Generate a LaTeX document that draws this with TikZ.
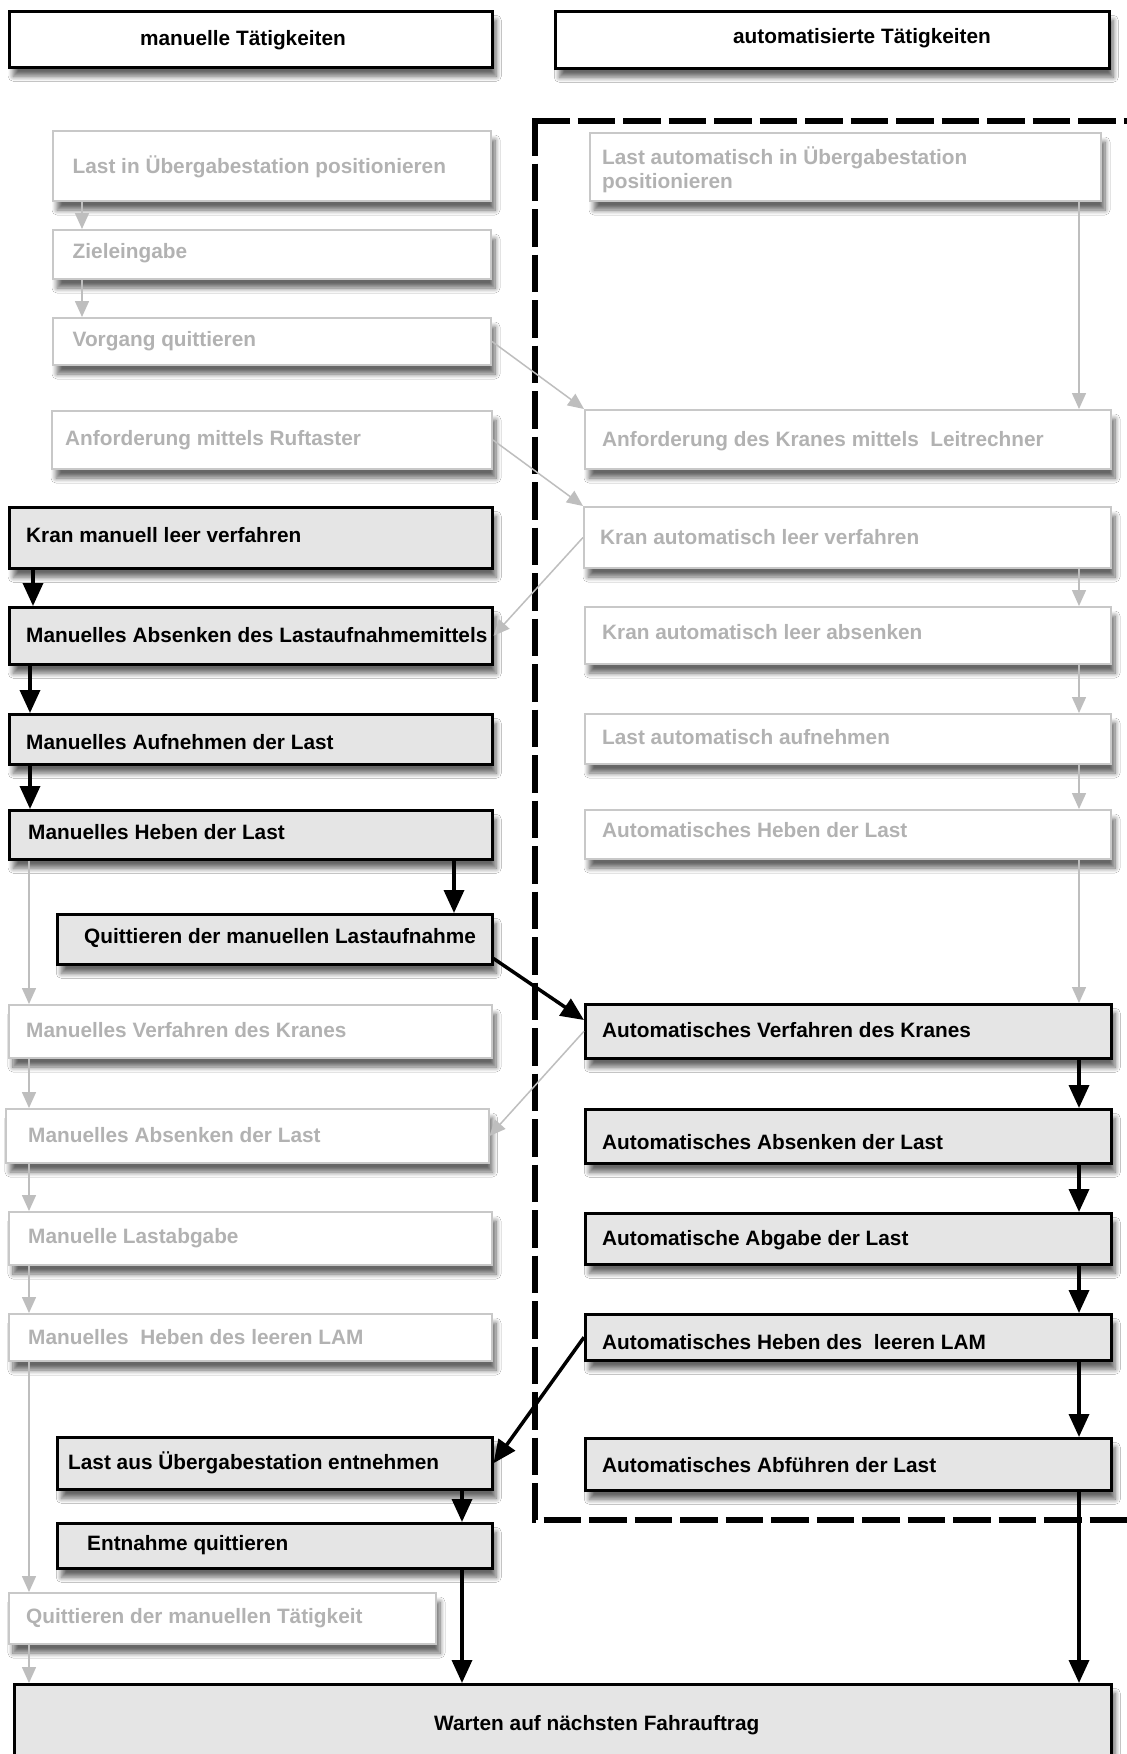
\documentclass[tikz,border=0pt]{standalone}
\usepackage{fontspec}
\setmainfont{Liberation Sans}
\usetikzlibrary{arrows.meta,shadows.blur}
\definecolor{boxfill}{RGB}{229,229,229}
\definecolor{lightborder}{RGB}{200,200,200}
\definecolor{lighttext}{RGB}{178,178,178}
\definecolor{lightarrow}{RGB}{190,190,190}
\tikzset{
 shad/.style={blur shadow={shadow xshift=4pt, shadow yshift=-9pt, shadow blur radius=5pt, shadow blur steps=8, shadow opacity=60}},
 gbox/.style={draw=lightborder, line width=2pt, fill=white, shad, inner sep=0pt},
 kbox/.style={draw=black, line width=2.5pt, fill=boxfill, shad, inner sep=0pt},
 hbox/.style={draw=black, line width=2.5pt, fill=white, shad, inner sep=0pt},
 alltxt/.style={font=\fontsize{20.8}{24}\selectfont\bfseries, inner sep=0pt},
 gboxtxt/.style={alltxt, text=lighttext},
 kboxtxt/.style={alltxt, text=black},
 hboxtxt/.style={alltxt, text=black},
 garr/.style={draw=lightarrow, line width=1.5pt, -{Triangle[length=16pt,width=14pt]}},
 karr/.style={draw=black, line width=3.5pt, -{Triangle[length=23pt,width=20pt]}},
 dashframe/.style={draw=black, line width=6pt, dash pattern=on 37.5pt off 8pt},
}
\newcommand{\mkbox}[9]{%
 \pgfmathsetmacro{\mybw}{#5-#3}\pgfmathsetmacro{\mybh}{#6-#4}%
 \node[#1, anchor=north west, minimum width=\mybw pt, minimum height=\mybh pt] (#2) at (#3,#4) {};
 \node[#1txt, anchor=west, align=left] (#2t) at (#7,#8) {#9};}
\begin{document}
\begin{tikzpicture}[x=1pt,y=-1pt]
\useasboundingbox (0,0) rectangle (1127,1754);
\fill[white] (0,0) rectangle (1127,1754);

% dashed frame of the automated area
\draw[dashframe] (532,121) -- (1145,121);
\draw[dashframe] (535,118) -- (535,1520) -- (1145,1520);

% headers
\node[hbox, anchor=north west, minimum width=483pt, minimum height=56pt] (hl) at (8,10) {};
\node[hboxtxt, anchor=base] (hlt) at (243,45) {manuelle Tätigkeiten};
\node[hbox, anchor=north west, minimum width=554pt, minimum height=57pt] (hr) at (554,10) {};
\node[hboxtxt, anchor=base] (hrt) at (862,43) {automatisierte Tätigkeiten};

% left column
\mkbox{gbox}{L1}{52}{130}{490}{200}{72.5}{167}{Last in Übergabestation positionieren}
\mkbox{gbox}{L2}{52}{229}{490}{278}{72.5}{253}{Zieleingabe}
\mkbox{gbox}{L3}{52}{317}{490}{364}{72.5}{341}{Vorgang quittieren}
\mkbox{gbox}{L4}{51}{410}{491}{468}{65}{440}{Anforderung mittels Ruftaster}
\mkbox{kbox}{L5}{8}{506}{491}{567}{26}{535}{Kran manuell leer verfahren}
\mkbox{kbox}{L6}{8}{606}{491}{663}{26}{635}{Manuelles Absenken des Lastaufnahmemittels}
\mkbox{kbox}{L7}{8}{713}{491}{763}{26}{742}{Manuelles Aufnehmen der Last}
\mkbox{kbox}{L8}{8}{809}{491}{858}{28}{832}{Manuelles Heben der Last}
\mkbox{kbox}{L9}{56}{913}{491}{963}{84}{938}{Quittieren der manuellen Lastaufnahme}
\mkbox{gbox}{L10}{8}{1004}{491}{1057}{26}{1030}{Manuelles Verfahren des Kranes}
\mkbox{gbox}{L11}{5}{1108}{487.5}{1162}{28}{1135}{Manuelles Absenken der Last}
\mkbox{gbox}{L12}{8}{1211}{491}{1264}{28}{1238}{Manuelle Lastabgabe}
\mkbox{gbox}{L13}{8}{1313}{491}{1360}{28}{1337}{Manuelles\ \ Heben des leeren LAM}
\mkbox{kbox}{L14}{56}{1436}{491}{1488}{68}{1463}{Last aus Übergabestation entnehmen}
\mkbox{kbox}{L15}{56}{1522}{491}{1567}{87}{1545}{Entnahme quittieren}
\mkbox{gbox}{L16}{8}{1592}{435}{1643}{26}{1618}{Quittieren der manuellen Tätigkeit}
\mkbox{kbox}{W}{13}{1683}{1110}{1775}{434}{1725}{Warten auf nächsten Fahrauftrag}

% right column
\mkbox{gbox}{R1}{589}{132}{1100}{200}{602}{170}{Last automatisch in Übergabestation\\positionieren}
\mkbox{gbox}{R2}{584}{409}{1110}{468}{602}{441}{Anforderung des Kranes mittels\ \ Leitrechner}
\mkbox{gbox}{R3}{583}{506}{1110}{567}{600}{537}{Kran automatisch leer verfahren}
\mkbox{gbox}{R4}{584}{606}{1110}{663}{602}{632}{Kran automatisch leer absenken}
\mkbox{gbox}{R5}{584}{713}{1110}{763}{602}{737}{Last automatisch aufnehmen}
\mkbox{gbox}{R6}{584}{809}{1110}{858}{602}{830}{Automatisches Heben der Last}
\mkbox{kbox}{R7}{584}{1003}{1110}{1057}{602}{1030}{Automatisches Verfahren des Kranes}
\mkbox{kbox}{R8}{584}{1108}{1110}{1162}{602}{1142}{Automatisches Absenken der Last}
\mkbox{kbox}{R9}{584}{1212}{1110}{1263}{602}{1240}{Automatische Abgabe der Last}
\mkbox{kbox}{R10}{584}{1313}{1110}{1359}{602}{1342}{Automatisches Heben des\ \ leeren LAM}
\mkbox{kbox}{R11}{584}{1437}{1110}{1489}{602}{1465}{Automatisches Abführen der Last}

% x positions of the vertical connectors
\coordinate (xa) at (82,0);
\coordinate (xl) at (29,0);
\coordinate (xk1) at (33,0);
\coordinate (xk) at (30,0);
\coordinate (xq) at (454,0);
\coordinate (xe) at (462,0);
\coordinate (xr) at (1079,0);

% grey connectors
\draw[garr] (L1.south -| xa) -- (L2.north -| xa);
\draw[garr] (L2.south -| xa) -- (L3.north -| xa);
\draw[garr] (L3.east) -- (R2.north west);
\draw[garr] (L4.east) -- (R3.north west);
\draw[garr] (R3.west) -- (L6.east);
\draw[garr] (R1.south -| xr) -- (R2.north -| xr);
\draw[garr] (R3.south -| xr) -- (R4.north -| xr);
\draw[garr] (R4.south -| xr) -- (R5.north -| xr);
\draw[garr] (R5.south -| xr) -- (R6.north -| xr);
\draw[garr] (R6.south -| xr) -- (R7.north -| xr);
\draw[garr] (L8.south -| xl) -- (L10.north -| xl);
\draw[garr] (L10.south -| xl) -- (L11.north -| xl);
\draw[garr] (L11.south -| xl) -- (L12.north -| xl);
\draw[garr] (L12.south -| xl) -- (L13.north -| xl);
\draw[garr] (L13.south -| xl) -- (L16.north -| xl);
\draw[garr] (L16.south -| xl) -- (W.north -| xl);
\draw[garr] (R7.west) -- (L11.east);

% black connectors
\draw[karr] (L5.south -| xk1) -- (L6.north -| xk1);
\draw[karr] (L6.south -| xk) -- (L7.north -| xk);
\draw[karr] (L7.south -| xk) -- (L8.north -| xk);
\draw[karr] (L8.south -| xq) -- (L9.north -| xq);
\draw[karr] ([yshift=7pt]L9.south east) -- ([yshift=-17pt]R7.north west);
\draw[karr] (R7.south -| xr) -- (R8.north -| xr);
\draw[karr] (R8.south -| xr) -- (R9.north -| xr);
\draw[karr] (R9.south -| xr) -- (R10.north -| xr);
\draw[karr] (R10.south -| xr) -- (R11.north -| xr);
\draw[karr] (R11.south -| xr) -- (W.north -| xr);
\draw[karr] (R10.west) -- (L14.east);
\draw[karr] (L14.south -| xe) -- (L15.north -| xe);
\draw[karr] (L15.south -| xe) -- (W.north -| xe);
\end{tikzpicture}
\end{document}
